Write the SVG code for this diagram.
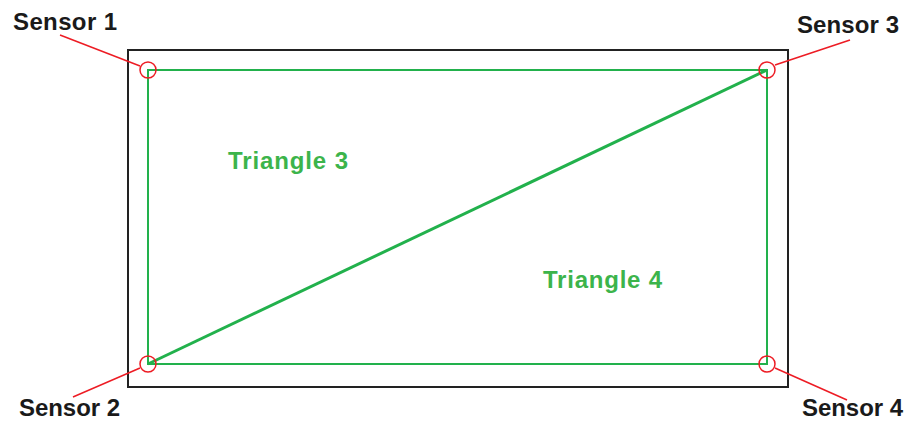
<svg xmlns="http://www.w3.org/2000/svg" width="911" height="423" viewBox="0 0 911 423">
<style>
.lbl{font-family:"Liberation Sans",Arial,sans-serif;font-weight:bold;font-size:24px;fill:#1a1a1a}
.tri{font-family:"Liberation Sans",Arial,sans-serif;font-weight:bold;font-size:24px;fill:#3cb44b}
.lead{stroke:#ed1c24;stroke-width:1.5;fill:none}
.ring{stroke:#ed1c24;stroke-width:1.5;fill:none}
.g{stroke:#22b14c;fill:none}
</style>
<rect width="911" height="423" fill="#ffffff"/>
<g id="frame"><rect x="128" y="50" width="660" height="337" fill="none" stroke="#222" stroke-width="2"/></g>
<g id="sensor-grid">
<rect class="g" x="148" y="70" width="619" height="294" stroke-width="2"/>
<line class="g" x1="148" y1="364" x2="767" y2="70" stroke-width="3"/>
</g>
<g id="triangle3"><text class="tri" x="228" y="169" textLength="120">Triangle 3</text></g>
<g id="triangle4"><text class="tri" x="543" y="288" textLength="119">Triangle 4</text></g>
<g id="connectors">
<line class="lead" x1="60" y1="35" x2="140" y2="66"/>
<line class="lead" x1="775" y1="65" x2="850" y2="40"/>
<line class="lead" x1="73" y1="397" x2="140" y2="368"/>
<line class="lead" x1="775" y1="368" x2="847" y2="400"/>
</g>
<g id="sensor1"><circle class="ring" cx="148" cy="70" r="8"/><text class="lbl" x="13" y="30" textLength="104">Sensor 1</text></g>
<g id="sensor3"><circle class="ring" cx="767" cy="70" r="8"/><text class="lbl" x="797" y="33" textLength="102">Sensor 3</text></g>
<g id="sensor2"><circle class="ring" cx="148" cy="364" r="8"/><text class="lbl" x="19" y="416" textLength="101">Sensor 2</text></g>
<g id="sensor4"><circle class="ring" cx="767" cy="364" r="8"/><text class="lbl" x="802" y="416" textLength="101">Sensor 4</text></g>
</svg>
